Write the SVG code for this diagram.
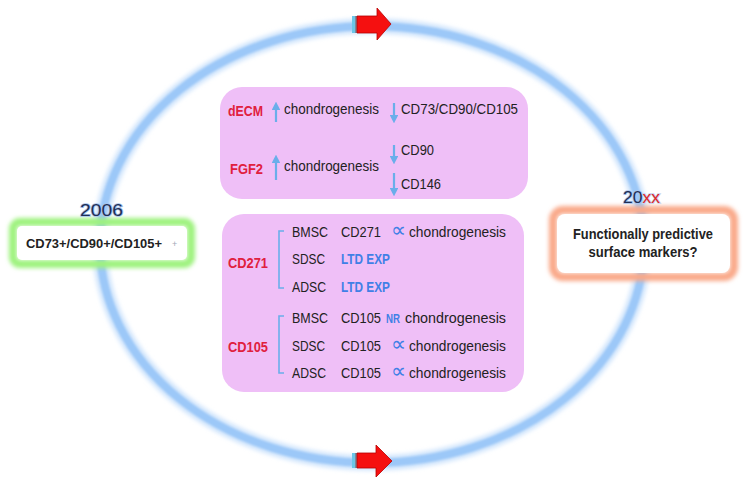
<svg xmlns="http://www.w3.org/2000/svg" width="748" height="484" viewBox="0 0 748 484">
<defs>
<filter id="blur2" x="-20%" y="-20%" width="140%" height="140%"><feGaussianBlur stdDeviation="2"/></filter>
<filter id="blur1" x="-10%" y="-10%" width="120%" height="120%"><feGaussianBlur stdDeviation="1.2"/></filter>
<marker id="ah" viewBox="0 0 10 10" refX="5" refY="5" markerWidth="4" markerHeight="4" orient="auto-start-reverse"><path d="M0,0 L10,5 L0,10 Z" fill="#6aaeea"/></marker>
</defs>
<style>
text{font-family:"Liberation Sans",Arial,sans-serif;font-size:15px;fill:#222}
.red{fill:#e0203e;font-weight:bold}
.blue{fill:#3f80e6;font-weight:bold}
.prop{fill:#3f80e6;font-size:21px}
.arr{stroke:#6aaeea;stroke-width:2.2;fill:none;marker-end:url(#ah)}
.br{stroke:#6aaeea;stroke-width:1.6;fill:none}
.pink{fill:#efbff7}
.yr{font-size:17px;fill:#1f2f55;stroke:#a9c4ee;stroke-width:1.6;paint-order:stroke}
.bold{font-weight:bold}
</style>
<rect width="748" height="484" fill="#ffffff"/>
<g id="cycle">
<ellipse cx="372" cy="244.5" rx="272" ry="218.5" fill="none" stroke="#cfe4fc" stroke-width="15" filter="url(#blur2)"/>
<ellipse cx="372" cy="244.5" rx="272" ry="218.5" fill="none" stroke="#9cc8f8" stroke-width="8" filter="url(#blur1)"/>
</g>
<g id="connectors">
<g id="arrow-top">
<rect x="352" y="16" width="3" height="17" fill="#6cc6e8"/>
<rect x="355" y="16" width="2" height="17" fill="#7a8a9a"/>
<path d="M357,16 H377 V8 L391,24 L377,40 V33 H357 Z" fill="#f51010" stroke="#b80000" stroke-width="0.8"/>
</g>
<g id="arrow-bottom">
<rect x="352" y="453" width="3" height="15" fill="#6cc6e8"/>
<rect x="355" y="453" width="2" height="15" fill="#7a8a9a"/>
<path d="M357,453 H376 V445 L392,461 L376,477 V468 H357 Z" fill="#f51010" stroke="#b80000" stroke-width="0.8"/>
</g>
</g>
<g id="node-2006">
<rect x="13" y="222" width="178" height="42" rx="7" fill="none" stroke="#9df27d" stroke-width="8" filter="url(#blur2)"/>
<rect x="17" y="226" width="170" height="34" rx="5" fill="#ffffff"/>
<text x="26" y="248" class="bold" textLength="136" lengthAdjust="spacingAndGlyphs" style="font-size:13.5px">CD73+/CD90+/CD105+</text>
<text x="172" y="247" style="font-size:9px;fill:#a0a8b8">+</text>
<text x="80" y="216" class="yr" textLength="43" lengthAdjust="spacingAndGlyphs">2006</text>
</g>
<g id="node-20xx">
<rect x="553" y="210" width="181" height="67" rx="10" fill="none" stroke="#f9a888" stroke-width="8" filter="url(#blur2)"/>
<rect x="557" y="214" width="173" height="59" rx="8" fill="#ffffff"/>
<text x="643" y="239" text-anchor="middle" class="bold" textLength="140" lengthAdjust="spacingAndGlyphs">Functionally predictive</text>
<text x="643" y="257" text-anchor="middle" class="bold" textLength="109" lengthAdjust="spacingAndGlyphs">surface markers?</text>
<text x="623" y="203" class="yr" textLength="37" lengthAdjust="spacingAndGlyphs">20<tspan style="fill:#e02828;stroke:#c8d4f0">xx</tspan></text>
</g>
<g id="node-factors">
<rect x="220" y="87" width="308" height="112" rx="22" class="pink"/>
<text x="228" y="116" class="red" textLength="35" lengthAdjust="spacingAndGlyphs">dECM</text>
<line x1="276" y1="122" x2="276" y2="106" class="arr"/>
<text x="284" y="114" textLength="95" lengthAdjust="spacingAndGlyphs">chondrogenesis</text>
<line x1="394" y1="103" x2="394" y2="119" class="arr"/>
<text x="401" y="114" textLength="117" lengthAdjust="spacingAndGlyphs">CD73/CD90/CD105</text>
<line x1="394" y1="145" x2="394" y2="160" class="arr"/>
<text x="401" y="155" textLength="33" lengthAdjust="spacingAndGlyphs">CD90</text>
<text x="230" y="174" class="red" textLength="33" lengthAdjust="spacingAndGlyphs">FGF2</text>
<line x1="276" y1="180" x2="276" y2="159" class="arr"/>
<text x="284" y="171" textLength="95" lengthAdjust="spacingAndGlyphs">chondrogenesis</text>
<line x1="394" y1="173" x2="394" y2="192" class="arr"/>
<text x="401" y="189" textLength="40" lengthAdjust="spacingAndGlyphs">CD146</text>
</g>
<g id="node-markers">
<rect x="222" y="214" width="302" height="178" rx="22" class="pink"/>
<text x="228" y="268" class="red" textLength="40" lengthAdjust="spacingAndGlyphs">CD271</text>
<path d="M284,231 H279 V288 H284" class="br"/>
<text x="292" y="237" textLength="36" lengthAdjust="spacingAndGlyphs">BMSC</text>
<text x="341" y="237" textLength="40" lengthAdjust="spacingAndGlyphs">CD271</text>
<text x="391" y="237" class="prop">∝</text>
<text x="409" y="237" textLength="97" lengthAdjust="spacingAndGlyphs">chondrogenesis</text>
<text x="292" y="264" textLength="33" lengthAdjust="spacingAndGlyphs">SDSC</text>
<text x="341" y="264" class="blue" textLength="49" lengthAdjust="spacingAndGlyphs">LTD EXP</text>
<text x="292" y="292" textLength="34" lengthAdjust="spacingAndGlyphs">ADSC</text>
<text x="341" y="292" class="blue" textLength="49" lengthAdjust="spacingAndGlyphs">LTD EXP</text>
<text x="228" y="352" class="red" textLength="40" lengthAdjust="spacingAndGlyphs">CD105</text>
<path d="M284,316 H279 V373 H284" class="br"/>
<text x="292" y="323" textLength="36" lengthAdjust="spacingAndGlyphs">BMSC</text>
<text x="341" y="323" textLength="40" lengthAdjust="spacingAndGlyphs" style="font-size:14px">CD105</text>
<text x="386" y="323" class="blue" textLength="14" lengthAdjust="spacingAndGlyphs" style="font-size:13px">NR</text>
<text x="405" y="323" textLength="101" lengthAdjust="spacingAndGlyphs" style="font-size:14px">chondrogenesis</text>
<text x="292" y="351" textLength="33" lengthAdjust="spacingAndGlyphs">SDSC</text>
<text x="341" y="351" textLength="40" lengthAdjust="spacingAndGlyphs">CD105</text>
<text x="391" y="351" class="prop">∝</text>
<text x="409" y="351" textLength="97" lengthAdjust="spacingAndGlyphs">chondrogenesis</text>
<text x="292" y="378" textLength="34" lengthAdjust="spacingAndGlyphs">ADSC</text>
<text x="341" y="378" textLength="40" lengthAdjust="spacingAndGlyphs">CD105</text>
<text x="391" y="378" class="prop">∝</text>
<text x="409" y="378" textLength="97" lengthAdjust="spacingAndGlyphs">chondrogenesis</text>
</g>
</svg>
